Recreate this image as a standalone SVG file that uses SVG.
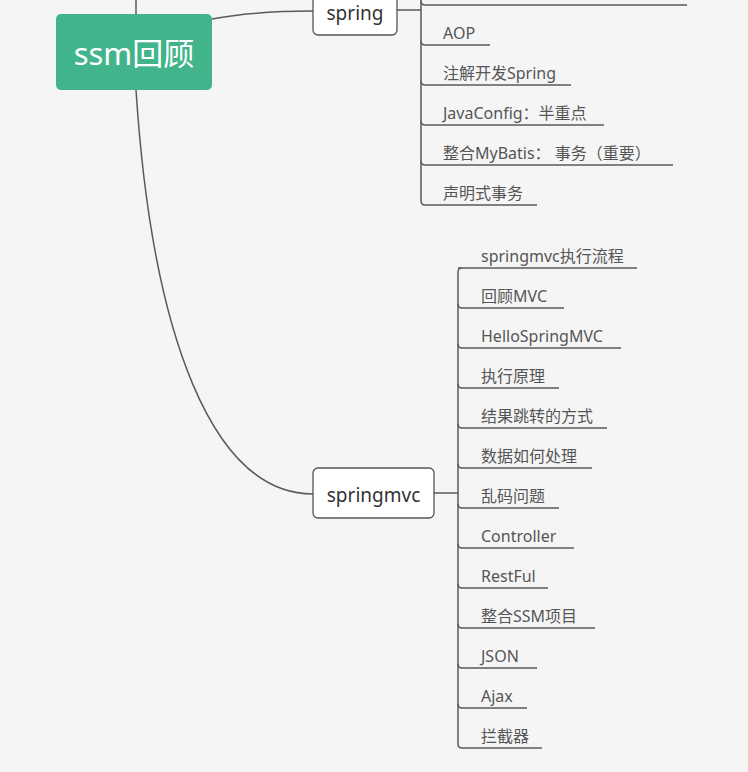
<svg xmlns="http://www.w3.org/2000/svg" width="748" height="772" viewBox="0 0 748 772">
<style>
.ln{fill:none;stroke:#5a5a5a;stroke-width:1.5}
.box{fill:#ffffff;stroke:#555;stroke-width:1.3}
.nt{font-family:"Noto Sans","Noto Sans CJK SC",sans-serif;font-size:19px;fill:#333}
.ct{font-family:"Noto Sans","Noto Sans CJK SC",sans-serif;font-size:16px;fill:#555}
</style>
<rect width="748" height="772" fill="#f5f5f5"/>
<g id="connectors">
<path class="ln" d="M136,0 V15"/>
<path class="ln" d="M212,19 C250,12 280,11 313,11"/>
<path class="ln" d="M136,90 C152,335 212,494 313,494"/>
<path class="ln" d="M397,10 H421"/>
<path class="ln" d="M421,0 V201 Q421,205 425,205 H537"/>
<path class="ln" d="M421,1 Q421,5 425,5 H687"/>
<path class="ln" d="M421,41 Q421,45 425,45 H490"/>
<path class="ln" d="M421,81 Q421,85 425,85 H571"/>
<path class="ln" d="M421,121 Q421,125 425,125 H604"/>
<path class="ln" d="M421,161 Q421,165 425,165 H673"/>
<path class="ln" d="M434,493 H458"/>
<path class="ln" d="M462,268 Q458,268 458,272 V744 Q458,748 462,748 H542"/>
<path class="ln" d="M458,268 H637"/>
<path class="ln" d="M458,304 Q458,308 462,308 H564"/>
<path class="ln" d="M458,344 Q458,348 462,348 H621"/>
<path class="ln" d="M458,384 Q458,388 462,388 H559"/>
<path class="ln" d="M458,424 Q458,428 462,428 H607"/>
<path class="ln" d="M458,464 Q458,468 462,468 H592"/>
<path class="ln" d="M458,504 Q458,508 462,508 H559"/>
<path class="ln" d="M458,544 Q458,548 462,548 H574"/>
<path class="ln" d="M458,584 Q458,588 462,588 H548"/>
<path class="ln" d="M458,624 Q458,628 462,628 H595"/>
<path class="ln" d="M458,664 Q458,668 462,668 H537"/>
<path class="ln" d="M458,704 Q458,708 462,708 H527"/>
</g>
<g id="root">
<rect x="56" y="14" width="156" height="76" rx="5" fill="#41b48c"/>
<text x="134" y="65" text-anchor="middle" font-family="Noto Sans, Noto Sans CJK SC, sans-serif" font-size="31" fill="#ffffff">ssm回顾</text>
</g>
<g id="spring">
<rect class="box" x="313" y="-15" width="84" height="50" rx="5"/>
<text class="nt" x="355" y="20" text-anchor="middle">spring</text>
</g>
<g id="springmvc">
<rect class="box" x="313" y="468" width="121" height="50" rx="5"/>
<text class="nt" x="373.5" y="502" text-anchor="middle">springmvc</text>
</g>
<g id="spring-children">
<text class="ct" x="443" y="39">AOP</text>
<text class="ct" x="443" y="79">注解开发Spring</text>
<text class="ct" x="443" y="119">JavaConfig：半重点</text>
<text class="ct" x="443" y="159">整合MyBatis： 事务（重要）</text>
<text class="ct" x="443" y="199">声明式事务</text>
</g>
<g id="springmvc-children">
<text class="ct" x="481" y="262">springmvc执行流程</text>
<text class="ct" x="481" y="302">回顾MVC</text>
<text class="ct" x="481" y="342">HelloSpringMVC</text>
<text class="ct" x="481" y="382">执行原理</text>
<text class="ct" x="481" y="422">结果跳转的方式</text>
<text class="ct" x="481" y="462">数据如何处理</text>
<text class="ct" x="481" y="502">乱码问题</text>
<text class="ct" x="481" y="542">Controller</text>
<text class="ct" x="481" y="582">RestFul</text>
<text class="ct" x="481" y="622">整合SSM项目</text>
<text class="ct" x="481" y="662">JSON</text>
<text class="ct" x="481" y="702">Ajax</text>
<text class="ct" x="481" y="742">拦截器</text>
</g>
</svg>
